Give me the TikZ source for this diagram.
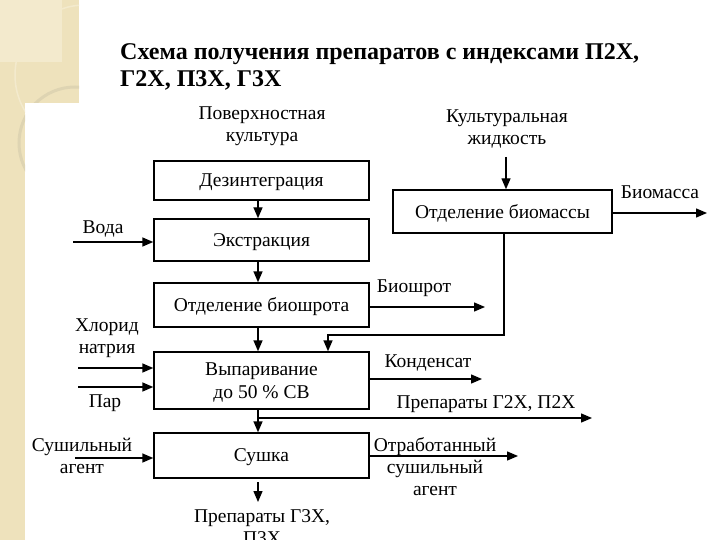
\documentclass[tikz,border=0pt]{standalone}
\usepackage{fontspec}
\setmainfont{Liberation Serif}
\usetikzlibrary{arrows.meta}
\definecolor{beige}{RGB}{238,226,188}
\definecolor{beigelight}{RGB}{243,234,205}
\definecolor{beigedark}{RGB}{222,212,178}
\begin{document}
\begin{tikzpicture}[x=1pt,y=-1pt,
  box/.style={draw, line width=1.4pt, minimum width=215pt, inner sep=0pt, align=center, text depth=-1.5pt, font=\fontsize{19.5}{23}\selectfont},
  lbl/.style={inner sep=0pt, align=center, font=\fontsize{19.5}{22}\selectfont},
  arr/.style={-{Triangle[length=11pt,width=9pt]}, line width=1.4pt}]
\useasboundingbox (0,0) rectangle (720,540);
% background decoration
\fill[beige] (0,0) rectangle (79,103);
\fill[beige] (0,0) rectangle (25,540);
\fill[beigelight] (0,0) rectangle (62,62);
\begin{scope}
\clip (0,0) rectangle (79,103) (0,0) rectangle (25,540);
\draw[beigelight, line width=1.5pt] (85,75) circle (70);
\draw[beigedark, line width=3pt] (75,143) circle (56);
\end{scope}
% title
\node[anchor=north west, inner sep=0pt, align=left, font=\fontsize{24}{26.5}\bfseries] (title) at (120,43.5)
  {Схема получения препаратов с индексами П2Х,\\Г2Х, П3Х, Г3Х};
% boxes
\node[box, minimum height=39pt] (b1) at (261.5,180.5) {Дезинтеграция};
\node[box, minimum height=42pt] (b2) at (261.5,240) {Экстракция};
\node[box, minimum height=44pt] (b3) at (261.5,305) {Отделение биошрота};
\node[box, minimum height=57pt] (b4) at (261.5,380.5) {Выпаривание\\до 50 \% СВ};
\node[box, minimum height=45pt] (b5) at (261.5,455.5) {Сушка};
\node[box, minimum width=219pt, minimum height=43pt] (b6) at (502.5,211.5) {Отделение биомассы};
% labels
\node[lbl] (tpk) at (262,126) {Поверхностная\\культура};
\node[lbl] (tkz) at (507,129.5) {Культуральная\\жидкость};
\node[lbl] (tvoda) at (103,229) {Вода};
\node[lbl] (tbsh) at (414,288) {Биошрот};
\node[lbl] (tbm) at (660,192) {Биомасса};
\node[lbl] (thl) at (107,338) {Хлорид\\натрия};
\node[lbl] (tpar) at (105,403) {Пар};
\node[lbl] (tkd) at (428,363) {Конденсат};
\node[lbl] (tpr2) at (486,404) {Препараты Г2Х, П2Х};
\node[lbl] (tsa) at (82,456) {Сушильный\\агент};
\node[lbl] (totr) at (435,467) {Отработанный\\сушильный\\агент};
\node[lbl, anchor=north] (tpr3) at (262,509) {Препараты Г3Х,\\П3Х};
% coordinates
\coordinate (w0) at (73,242);
\coordinate (bs) at (485,307);
\coordinate (c1) at (504,335);
\coordinate (c2) at (328,335);
\coordinate (k0) at (506,157);
\coordinate (bm) at (707,213);
\coordinate (h0) at (78,368);
\coordinate (p0) at (78,387);
\coordinate (kd) at (482,379);
\coordinate (g0) at (258,418);
\coordinate (g1) at (592,418);
\coordinate (s0) at (75,458);
\coordinate (o1) at (518,456);
\coordinate (e0) at (258,482);
\coordinate (e1) at (258,502);
% connectors
\draw[arr] ([xshift=-3.5pt]b1.south) -- ([xshift=-3.5pt]b2.north);
\draw[arr] ([xshift=-3.5pt]b2.south) -- ([xshift=-3.5pt]b3.north);
\draw[arr] ([xshift=-3.5pt]b3.south) -- ([xshift=-3.5pt]b4.north);
\draw[arr] ([xshift=-3.5pt]b4.south) -- ([xshift=-3.5pt]b5.north);
\draw[arr] (w0) -- (w0 -| b2.west);
\draw[arr] (bs -| b3.east) -- (bs);
\draw[arr] (c1 |- b6.south) -- (c1) -- (c2) -- (c2 |- b4.north);
\draw[arr] (k0) -- (k0 |- b6.north);
\draw[arr] (bm -| b6.east) -- (bm);
\draw[arr] (h0) -- (h0 -| b4.west);
\draw[arr] (p0) -- (p0 -| b4.west);
\draw[arr] (kd -| b4.east) -- (kd);
\draw[arr] (g0) -- (g1);
\draw[arr] (s0) -- (s0 -| b5.west);
\draw[arr] (o1 -| b5.east) -- (o1);
\draw[arr] (e0) -- (e1);
\end{tikzpicture}
\end{document}
